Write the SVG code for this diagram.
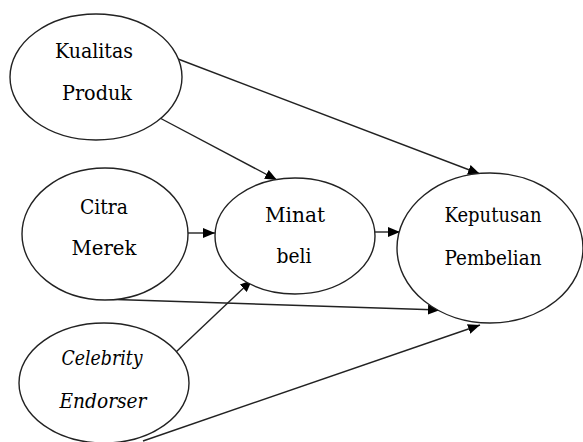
<svg xmlns="http://www.w3.org/2000/svg" width="583" height="442" viewBox="0 0 583 442" font-family="DejaVu Serif, serif">
<style>
.n ellipse{fill:#fff;stroke:#222;stroke-width:1.4}
.n text{font-size:21px;fill:#000;text-anchor:middle}
.n text.s{font-size:20px}
.n text.i{font-style:italic}
#edges line{stroke:#222;stroke-width:1.4;marker-end:url(#ah)}
</style>
<defs>
<marker id="ah" viewBox="0 0 12 10" refX="12" refY="5" markerWidth="12" markerHeight="10" markerUnits="userSpaceOnUse" orient="auto">
<path d="M0,0 L12,5 L0,10 Z" fill="#000"/>
</marker>
</defs>
<rect width="583" height="442" fill="#fff"/>
<g id="edges">
<line x1="178" y1="59" x2="480" y2="174"/>
<line x1="158" y1="117" x2="277" y2="180"/>
<line x1="188" y1="233" x2="215" y2="233"/>
<line x1="375" y1="232" x2="400" y2="232"/>
<line x1="100" y1="299" x2="440" y2="310"/>
<line x1="176" y1="352" x2="252" y2="280"/>
<line x1="143" y1="441" x2="480" y2="325"/>
</g>
<g id="kualitas" class="n">
<ellipse cx="96" cy="77" rx="86" ry="63"/>
<text x="94" y="58" textLength="78" lengthAdjust="spacingAndGlyphs">Kualitas</text>
<text x="97" y="100" textLength="70" lengthAdjust="spacingAndGlyphs">Produk</text>
</g>
<g id="citra" class="n">
<ellipse cx="105" cy="234" rx="83" ry="66"/>
<text x="104" y="214" textLength="48" lengthAdjust="spacingAndGlyphs">Citra</text>
<text x="104" y="255" textLength="65" lengthAdjust="spacingAndGlyphs">Merek</text>
</g>
<g id="celebrity" class="n">
<ellipse cx="104" cy="383" rx="85" ry="60"/>
<text class="i" x="102" y="365" textLength="81" lengthAdjust="spacingAndGlyphs">Celebrity</text>
<text class="i" x="103" y="408" textLength="87" lengthAdjust="spacingAndGlyphs">Endorser</text>
</g>
<g id="minat" class="n">
<ellipse cx="295" cy="236" rx="80" ry="58"/>
<text x="295" y="222" textLength="60" lengthAdjust="spacingAndGlyphs">Minat</text>
<text x="294" y="263" textLength="35" lengthAdjust="spacingAndGlyphs">beli</text>
</g>
<g id="keputusan" class="n">
<ellipse cx="490" cy="248" rx="93" ry="75"/>
<text class="s" x="493" y="222" textLength="97" lengthAdjust="spacingAndGlyphs">Keputusan</text>
<text class="s" x="493" y="265" textLength="97" lengthAdjust="spacingAndGlyphs">Pembelian</text>
</g>
</svg>
